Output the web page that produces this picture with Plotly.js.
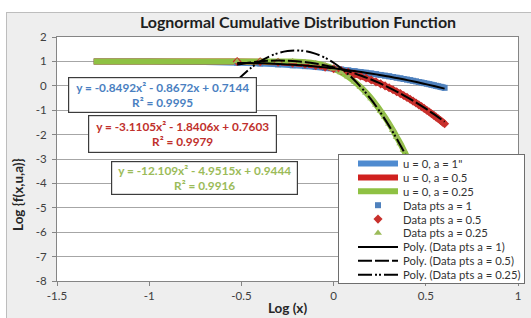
<!DOCTYPE html>
<html>
<head>
<meta charset="utf-8">
<script src="https://cdn.plot.ly/plotly-3.0.1.min.js"></script>
<style>
  html, body { margin:0; padding:0; background:#ffffff; width:531px; height:318px; overflow:hidden; }
  #wrap { position:absolute; left:6px; top:12px; border-left:1px solid #bdbdbd; border-top:1px solid #bdbdbd; }
  #chart { width:524px; height:305px; }
</style>
</head>
<body>
<div id="wrap"><div id="chart"></div></div>
<script>
// ---- data ----
const logX = [-1.301, -1.000, -0.699, -0.523, -0.398, -0.301, -0.222, -0.155, -0.097, -0.046,
  0.000, 0.041, 0.079, 0.114, 0.146, 0.176, 0.204, 0.230, 0.255, 0.279,
  0.301, 0.322, 0.342, 0.362, 0.380, 0.398, 0.415, 0.431, 0.447, 0.462,
  0.477, 0.491, 0.505, 0.519, 0.531, 0.544, 0.556, 0.568, 0.580, 0.591, 0.602];

const lineA1 = [0.999, 0.995, 0.976, 0.947, 0.914, 0.879, 0.842, 0.806, 0.770, 0.734,
  0.699, 0.665, 0.631, 0.598, 0.566, 0.535, 0.504, 0.474, 0.445, 0.416,
  0.388, 0.360, 0.333, 0.306, 0.280, 0.255, 0.230, 0.205, 0.181, 0.157,
  0.134, 0.110, 0.088, 0.065, 0.043, 0.022, 0.000, -0.021, -0.041, -0.062, -0.082];

const lineA05 = [1.000, 1.000, 1.000, 0.997, 0.985, 0.963, 0.928, 0.882, 0.828, 0.766,
  0.699, 0.628, 0.554, 0.477, 0.399, 0.320, 0.240, 0.159, 0.079, -0.002,
  -0.082, -0.162, -0.241, -0.320, -0.398, -0.476, -0.553, -0.629, -0.705, -0.780,
  -0.854, -0.927, -1.000, -1.072, -1.143, -1.214, -1.284, -1.353, -1.421, -1.489, -1.556];

const lineA025 = [1.000, 1.000, 1.000, 1.000, 1.000, 0.999, 0.991, 0.965, 0.911, 0.822,
  0.699, 0.546, 0.367, 0.167, -0.050, -0.281, -0.522, -0.772, -1.029, -1.291,
  -1.556, -1.824, -2.094, -2.366, -2.636, -2.908, -3.179, -3.450, -3.719, -3.987,
  -4.256, -4.521, -4.785, -5.048, -5.310, -5.570, -5.820, -6.080, -6.330, -6.580, -6.830];

// data points (x = 0.3 ... 4.0) are the same samples as the curves from the 4th value on
const ptsLogX = logX.slice(3);
const ptsA1 = lineA1.slice(3);
const ptsA05 = lineA05.slice(3);
const ptsA025 = lineA025.slice(3);

// polynomial trendlines (values of the displayed fits)
const polyLogX = [-0.523, -0.45, -0.4, -0.35, -0.3, -0.25, -0.2, -0.15, -0.1, -0.05, 0,
  0.05, 0.1, 0.15, 0.2, 0.25, 0.3, 0.35, 0.4, 0.45, 0.5, 0.55, 0.602];
const polyA1 = [0.936, 0.933, 0.925, 0.914, 0.898, 0.878, 0.854, 0.825, 0.793, 0.756, 0.714,
  0.669, 0.619, 0.565, 0.507, 0.445, 0.378, 0.307, 0.232, 0.152, 0.069, -0.020, -0.116];
const polyA05 = [0.872, 0.959, 0.999, 1.024, 1.033, 1.026, 1.004, 0.966, 0.913, 0.845, 0.760,
  0.661, 0.545, 0.414, 0.268, 0.106, -0.072, -0.265, -0.474, -0.698, -0.938, -1.193, -1.475];
const polyA025 = [0.222, 0.721, 0.988, 1.194, 1.340, 1.426, 1.450, 1.415, 1.319, 1.162, 0.944,
  0.667, 0.328, -0.071, -0.530, -1.050, -1.631, -2.272, -2.974, -3.736, -4.559, -5.442, -6.425];

const seriesNames = ['u = 0, a = 1"', 'u = 0, a = 0.5', 'u = 0, a = 0.25',
  'Data pts a = 1', 'Data pts a = 0.5', 'Data pts a = 0.25',
  'Poly. (Data pts a = 1)', 'Poly. (Data pts a = 0.5)', 'Poly. (Data pts a = 0.25)'];

const eqTexts = ['y = -0.8492x² - 0.8672x + 0.7144<br>R² = 0.9995',
  'y = -3.1105x² - 1.8406x + 0.7603<br>R² = 0.9979',
  'y = -12.109x² - 4.9515x + 0.9444<br>R² = 0.9916'];

const xTicks = [-1.5, -1, -0.5, 0, 0.5, 1];
const yTicks = [-8, -7, -6, -5, -4, -3, -2, -1, 0, 1, 2];

// ---- styling ----
const cBlue = '#4f8bd0', cRed = '#d0211f', cGreen = '#8fc143';
const mBlue = '#4f81bd', mRed = '#c8302c', mGreen = '#9bbb59';
const tBlue = '#4a7fc1', tRed = '#c0302c', tGreen = '#9bbb59';

const traces = [
  {x: logX, y: lineA1, name: seriesNames[0], mode: 'lines', line: {color: cBlue, width: 6, shape: 'spline'}},
  {x: logX, y: lineA05, name: seriesNames[1], mode: 'lines', line: {color: cRed, width: 6, shape: 'spline'}},
  {x: logX, y: lineA025, name: seriesNames[2], mode: 'lines', line: {color: cGreen, width: 6, shape: 'spline'}},
  {x: ptsLogX, y: ptsA1, name: seriesNames[3], mode: 'markers', marker: {symbol: 'square', size: 6, color: mBlue}},
  {x: ptsLogX, y: ptsA05, name: seriesNames[4], mode: 'markers', marker: {symbol: 'diamond', size: 7, color: mRed}},
  {x: ptsLogX, y: ptsA025, name: seriesNames[5], mode: 'markers', marker: {symbol: 'triangle-up', size: 7, color: mGreen}},
  {x: polyLogX, y: polyA1, name: seriesNames[6], mode: 'lines', line: {color: '#000000', width: 2, shape: 'spline'}},
  {x: polyLogX, y: polyA05, name: seriesNames[7], mode: 'lines', line: {color: '#000000', width: 2, shape: 'spline', dash: '14px,3px'}},
  {x: polyLogX, y: polyA025, name: seriesNames[8], mode: 'lines', line: {color: '#000000', width: 2, shape: 'spline', dash: '14px,3px,2px,2px,2px,3px'}}
];

const W = 524, H = 305;
const M = {l: 50, r: 13, t: 24, b: 37, autoexpand: false};
const PW = W - M.l - M.r, PH = H - M.t - M.b;
// helpers converting page pixels to paper fractions (page offset of the div: 7,13)
const px = v => (v - 7 - M.l) / PW;
const py = v => 1 - (v - 13 - M.t) / PH;

function eqBox(i, cx, cy, w, h, color) {
  return {
    text: '<b>' + eqTexts[i] + '</b>', xref: 'paper', yref: 'paper',
    x: px(cx), y: py(cy), xanchor: 'center', yanchor: 'middle', showarrow: false,
    font: {size: 11.8, color: color}, align: 'center',
    bgcolor: '#ffffff', bordercolor: '#3c3c3c', borderwidth: 1.2, borderpad: 2,
    width: w, height: h
  };
}

const layout = {
  width: W, height: H,
  margin: M,
  paper_bgcolor: '#eeeeee',
  plot_bgcolor: '#ffffff',
  font: {family: 'Lato, "Open Sans", sans-serif', color: '#404040'},
  title: {
    text: '<b>Lognormal Cumulative Distribution Function</b>',
    font: {size: 16, color: '#1e1e1e'},
    xref: 'container', yref: 'container', x: (298 - 7) / W, y: 1 - 9.5 / H,
    xanchor: 'center', yanchor: 'middle'
  },
  xaxis: {
    range: [-1.5, 1], tickvals: xTicks, ticktext: xTicks.map(String),
    showgrid: false, zeroline: false,
    showline: true, linecolor: '#858585', linewidth: 1, mirror: true,
    ticks: 'outside', ticklen: 4, tickcolor: '#858585',
    tickfont: {size: 11.5, color: '#404040'},
    title: {text: '<b>Log (x)</b>', font: {size: 13.5, color: '#262626'}, standoff: 2}
  },
  yaxis: {
    range: [-8, 2], tickvals: yTicks, ticktext: yTicks.map(String),
    showgrid: true, gridcolor: '#a6a6a6', gridwidth: 1, zeroline: false,
    showline: true, linecolor: '#858585', linewidth: 1, mirror: true,
    ticks: 'outside', ticklen: 4, tickcolor: '#858585',
    tickfont: {size: 11.5, color: '#404040'}, ticklabelstandoff: 3
  },
  showlegend: true,
  legend: {
    x: px(338), y: py(154), xanchor: 'left', yanchor: 'top',
    bgcolor: '#ffffff', bordercolor: '#6e6e6e', borderwidth: 1,
    font: {size: 11.3, color: '#333333'}, itemwidth: 40, tracegroupgap: 0,
    traceorder: 'normal'
  },
  annotations: [
    eqBox(0, 162.5, 95, 183, 30, tBlue),
    eqBox(1, 182.5, 134, 183, 32, tRed),
    eqBox(2, 204.5, 178, 181, 28, tGreen),
    {
      text: '<b>Log {f(x,u,a)}</b>', textangle: -90, xref: 'paper', yref: 'paper',
      x: px(18), y: py(195), xanchor: 'center', yanchor: 'middle', showarrow: false,
      font: {size: 13.5, color: '#262626'}
    }
  ]
};

const gd = document.getElementById('chart');
Plotly.newPlot(gd, traces, layout, {staticPlot: true, displayModeBar: false}).then(() => {
  // compact legend rows like the reference (about 14 px per row)
  const leg = gd.querySelector('.legend');
  if (!leg) return;
  const sb = leg.querySelector('.scrollbox');
  if (sb) sb.removeAttribute('clip-path');
  const items = leg.querySelectorAll('.traces');
  const step = 13.9, first = 9.5;
  items.forEach((it, i) => {
    const m = /translate\(([-\d.e]+)[ ,]+([-\d.e]+)\)/.exec(it.getAttribute('transform') || '');
    const x = m ? parseFloat(m[1]) : 0;
    it.setAttribute('transform', 'translate(' + (x + 14) + ',' + (first + i * step) + ')');
  });
  const bg = leg.querySelector('rect.bg');
  if (bg) {
    bg.setAttribute('height', String(first + (items.length - 1) * step + 8));
    bg.setAttribute('width', '186');
  }
});
</script>
</body>
</html>
